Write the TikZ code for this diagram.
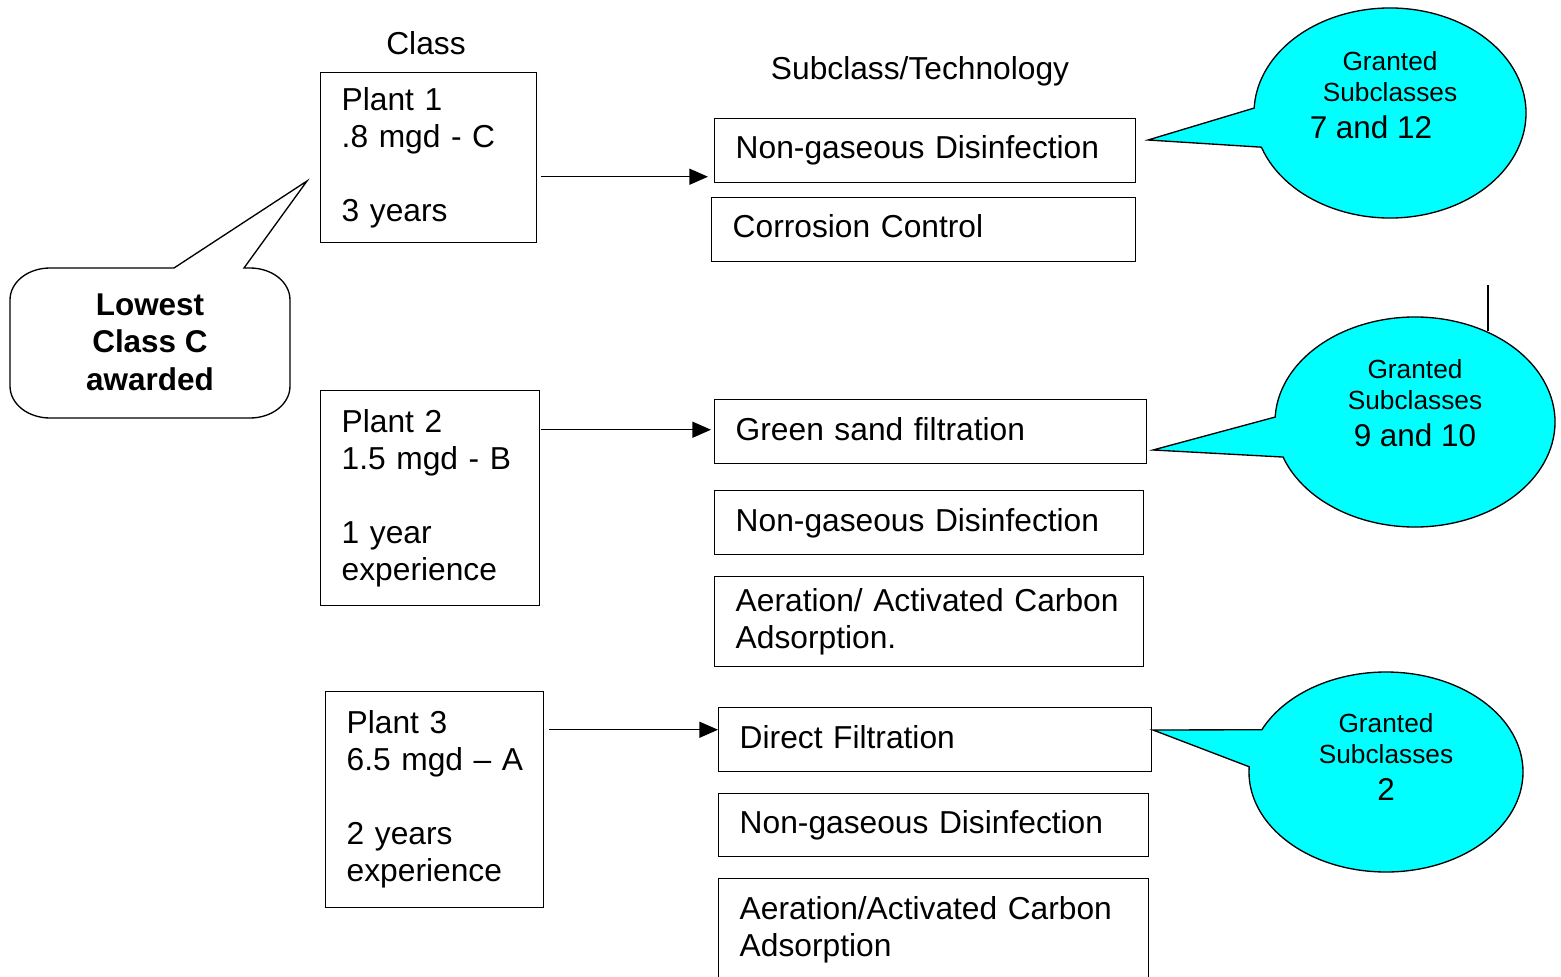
\documentclass[tikz,border=0pt]{standalone}
\usepackage{fontspec}
\setmainfont{Liberation Sans}
\usetikzlibrary{arrows.meta,calc}
\setlength\parindent{0pt}
\newcommand\mainsz{\fontsize{23.8}{27.75}\selectfont}
\newcommand\smallsz{\fontsize{19.7}{23.25}\selectfont}
\newcommand\numsz{\fontsize{23.6}{25}\selectfont}
\newcommand\lowsz{\fontsize{23.6}{28.1}\selectfont\bfseries}
\definecolor{callcyan}{HTML}{00FFFF}
\begin{document}
\begin{tikzpicture}[x=0.75pt,y=-0.75pt,
  box/.style={draw, line width=1.1pt, rectangle, anchor=north west, inner xsep=15.75pt, inner ysep=0pt, align=left, font=\mainsz},
  oneline/.style={text height=17.4pt, text depth=5pt},
  lbl/.style={font=\mainsz, inner sep=0pt},
  arr/.style={line width=1.1pt, -{Triangle[length=14pt,width=12pt]}},
  bubble/.style={draw, line width=1pt, fill=callcyan, line join=miter},
  lowbubble/.style={draw, line width=1pt, fill=white, line join=miter},
  calltext/.style={align=center, font=\smallsz, inner sep=0pt},
  lowtext/.style={align=center, font=\lowsz, inner sep=0pt},
  strayline/.style={line width=1.1pt}
]
\useasboundingbox[fill=white] (0,0) rectangle (1561,977);

% column labels
\node[lbl] (classlbl) at (426,43) {Class};
\node[lbl] (sublbl) at (920,71) {Subclass/Technology};

% Plant 1
\node[box, minimum width=162pt, minimum height=127.5pt, text width=130.5pt] (p1) at (320,72) {\mbox{Plant 1}\\\mbox{.8 mgd - C}\\[27.75pt]\mbox{3 years}};
\node[box, oneline, minimum width=315.75pt, minimum height=48pt, text width=284.25pt] (n1) at (714,118) {Non-gaseous Disinfection};
\node[box, oneline, minimum width=318pt, minimum height=48pt, text width=286.5pt] (cc1) at (711,197) {Corrosion Control};

% Plant 2
\node[box, minimum width=164.25pt, minimum height=161.25pt, text width=132.75pt] (p2) at (320,390) {\mbox{Plant 2}\\\mbox{1.5 mgd - B}\\[27.75pt]\mbox{1 year}\\\mbox{experience}};
\node[box, oneline, minimum width=324pt, minimum height=48pt, text width=292.5pt] (g2) at (714,399) {Green sand filtration};
\node[box, oneline, minimum width=321.75pt, minimum height=48pt, text width=290.25pt] (n2) at (714,490) {Non-gaseous Disinfection};
\node[box, minimum width=321.75pt, minimum height=67.5pt, text width=290.25pt] (a2) at (714,576) {\mbox{Aeration/ Activated Carbon}\\Adsorption.};

% Plant 3
\node[box, minimum width=163.5pt, minimum height=162pt, text width=132pt] (p3) at (325,691) {\mbox{Plant 3}\\\mbox{6.5 mgd – A}\\[27.75pt]\mbox{2 years}\\\mbox{experience}};
\node[box, oneline, minimum width=324.75pt, minimum height=48pt, text width=293.25pt] (d3) at (718,707) {Direct Filtration};
\node[box, oneline, minimum width=322.5pt, minimum height=47.25pt, text width=291pt] (n3) at (718,793) {Non-gaseous Disinfection};
\node[box, minimum width=322.5pt, minimum height=99pt, text width=291pt] (a3) at (718,878) {\mbox{Aeration/Activated Carbon}\\Adsorption\\\mbox{}};

% arrows
\draw[arr] ($(p1.east)+(4,19)$) -- ($(p1.east -| n1.west)+(-6,19)$);
\draw[arr] ($(p2.east)+(1,-68.5)$) -- ($(p2.east -| g2.west)+(-3,-68.5)$);
\draw[arr] ($(p3.east)+(5,-70)$) -- ($(p3.east -| d3.west)+(0,-70)$);

% Lowest class callout
\coordinate (lowtip) at (307,181);
\draw[lowbubble] (244,268) -- (250,268) .. controls (272,268) and (290,282) .. (290,300)
  -- (290,386) .. controls (290,404) and (272,418) .. (250,418)
  -- (50,418) .. controls (28,418) and (10,404) .. (10,386)
  -- (10,300) .. controls (10,282) and (28,268) .. (50,268)
  -- (174,268) -- (lowtip) -- cycle;
\node[lowtext] (lowest) at (150,342) {Lowest\\Class C\\awarded};

% Granted callout 1
\coordinate (c1) at (1390,113);
\coordinate (t1) at (1148,140);
\draw[bubble] ($(c1)+(182.7:136 and 105)$) -- (t1) -- ($(c1)+(161:136 and 105)$)
  arc[start angle=161, end angle=-177.3, x radius=136, y radius=105] -- cycle;
\node[calltext] (g1txt) at (1390,95) {Granted\\Subclasses\\[5pt]{\numsz 7 and 12\hspace*{28.5pt}}};

% stray vertical line
\coordinate (vl1) at (1488,285);
\coordinate (vl2) at (1488,331);
\draw[strayline] (vl1) -- (vl2);

% Granted callout 2
\coordinate (c2) at (1415,422);
\coordinate (t2) at (1153,450);
\draw[bubble] ($(c2)+(182.7:140 and 105)$) -- (t2) -- ($(c2)+(160.5:140 and 105)$)
  arc[start angle=160.5, end angle=-177.3, x radius=140, y radius=105] -- cycle;
\node[calltext] (g2txt) at (1415,403) {Granted\\Subclasses\\[5pt]{\numsz 9 and 10}};

% Granted callout 3
\coordinate (c3) at (1386,772);
\coordinate (t3) at (1153,730);
\draw[bubble] ($(c3)+(205:137 and 100)$) -- (t3) -- ($(c3)+(183:137 and 100)$)
  arc[start angle=183, end angle=-155, x radius=137, y radius=100] -- cycle;
\node[calltext] (g3txt) at (1386,757) {Granted\\Subclasses\\[5pt]{\numsz 2}};
\end{tikzpicture}
\end{document}
